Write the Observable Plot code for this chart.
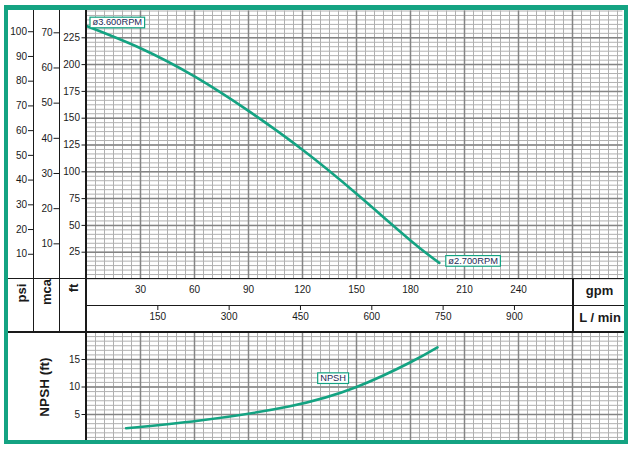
<!DOCTYPE html>
<html><head><meta charset="utf-8">
<script src="https://cdn.jsdelivr.net/npm/d3@7"></script>
<script src="https://cdn.jsdelivr.net/npm/@observablehq/plot@0.6"></script>
<style>
html,body{margin:0;padding:0;background:#fff;}
#c{position:relative;width:637px;height:453px;overflow:hidden;font-family:"Liberation Sans",Arial,sans-serif;background:#fff;}
#c svg{position:absolute;overflow:visible;}
.ln{position:absolute;background:#1a1a1a;}
.lbl{position:absolute;font-weight:bold;color:#1a1a1a;white-space:nowrap;line-height:1;}
.rot{transform:translate(-50%,-50%) rotate(-90deg);}
.ctr{transform:translate(-50%,-50%);}
#frame{position:absolute;left:4px;top:5px;width:624px;height:439px;box-sizing:border-box;border:4px solid #14a382;border-top-width:5px;z-index:10;pointer-events:none;}
</style></head>
<body><div id="c"></div>
<script>
// ---- data ----
const gpmTicks = [30, 60, 90, 120, 150, 180, 210, 240];
const lminTicks = [150, 300, 450, 600, 750, 900];
const ftTicks = [25, 50, 75, 100, 125, 150, 175, 200, 225];
const psiTicks = [10, 20, 30, 40, 50, 60, 70, 80, 90, 100];
const mcaTicks = [10, 20, 30, 40, 50, 60, 70];
const npshTicks = [5, 10, 15];
const headGpm = [0, 30, 60, 90, 120, 150, 180, 196];
const headFt = [236, 215.3, 189, 156.8, 120.5, 79.5, 36, 15];
const npshGpm = [22, 63, 113, 150, 180, 195];
const npshFt = [2.5, 3.9, 6.5, 10.0, 14.5, 17.2];
const rpmLabels = ["ø3.600RPM", "ø2.700RPM"];
const npshLabel = "NPSH";

// ---- layout constants ----
const GREEN = "#14a382";
const W = 637;
const gpmMax = 298;
const ftMax = 250;
const npshMax = 20;
const PSI_FT = 2.30666, M_FT = 3.28084, L_GAL = 3.78541;
const mL = 86, mR = W - 622.4;
const font = {fontFamily: '"Liberation Sans", Arial, sans-serif', fontSize: "10px", color: "#1a1a1a", background: "transparent"};

const head = headGpm.map((g, i) => ({gpm: g, ft: headFt[i]}));
const npsh = npshGpm.map((g, i) => ({gpm: g, ft: npshFt[i]}));
const minorX = d3.range(0, gpmMax + 0.01, 5);
const majorX = d3.range(30, gpmMax, 30);
const c = document.getElementById("c");

function place(svg, left, top) { svg.style.left = left + "px"; svg.style.top = top + "px"; c.appendChild(svg); return svg; }
function box(svg, names) {
  d3.select(svg).selectAll("text").filter(function () { return names.includes(this.textContent); }).each(function () {
    const b = this.getBBox();
    const r = document.createElementNS("http://www.w3.org/2000/svg", "rect");
    r.setAttribute("x", b.x - 2.5); r.setAttribute("y", b.y - 0.3);
    r.setAttribute("width", b.width + 5); r.setAttribute("height", b.height + 0.6);
    r.setAttribute("fill", "#fff"); r.setAttribute("stroke", GREEN); r.setAttribute("stroke-width", 1.2);
    const t = this.getAttribute("transform"); if (t) r.setAttribute("transform", t);
    this.parentNode.insertBefore(r, this);
  });
}
const minorStyle = {stroke: "#b0b0b0", strokeWidth: 1, strokeOpacity: 1};
const majorStyle = {stroke: "#858585", strokeWidth: 1.5, strokeOpacity: 1};

// ---- head chart ----
const top1 = Plot.plot({
  width: W, height: 280, marginLeft: mL, marginRight: mR, marginTop: 10.5, marginBottom: 1.5,
  style: font,
  x: {domain: [0, gpmMax], axis: null},
  y: {domain: [0, ftMax]},
  marks: [
    Plot.ruleX(minorX, minorStyle),
    Plot.ruleY(d3.range(0, ftMax + 0.01, ftMax / 60), minorStyle),
    Plot.ruleX(majorX, majorStyle),
    Plot.ruleY(d3.range(25, ftMax, 25), majorStyle),
    Plot.axisY(ftTicks, {anchor: "left", tickSize: 4.5, tickPadding: 2, label: null, stroke: "#1a1a1a"}),
    Plot.line(head, {x: "gpm", y: "ft", stroke: GREEN, strokeWidth: 2.6, curve: "natural"}),
    Plot.text([{...head[0], t: rpmLabels[0]}], {x: "gpm", y: "ft", text: "t", textAnchor: "start", dx: 6, dy: -3.5, fontSize: 9.3, fill: "#1c2a55"}),
    Plot.text([{...head[head.length - 1], t: rpmLabels[1]}], {x: "gpm", y: "ft", text: "t", textAnchor: "start", dx: 9, dy: -2, fontSize: 9.3, fill: "#1c2a55"})
  ]
});
place(top1, 0, 0);
box(top1, rpmLabels);

// psi axis
place(Plot.plot({
  width: 34, height: 280, marginLeft: 33, marginRight: 1, marginTop: 10.5, marginBottom: 1.5, style: font,
  y: {domain: [0, ftMax / PSI_FT]},
  marks: [Plot.axisY(psiTicks, {anchor: "left", tickSize: 5, tickPadding: 1.5, label: null, stroke: "#1a1a1a"})]
}), 0, 0);
// mca axis
place(Plot.plot({
  width: 60, height: 280, marginLeft: 59, marginRight: 1, marginTop: 10.5, marginBottom: 1.5, style: font,
  y: {domain: [0, ftMax / M_FT]},
  marks: [Plot.axisY(mcaTicks, {anchor: "left", tickSize: 5.5, tickPadding: 1.5, label: null, stroke: "#1a1a1a"})]
}), 0, 0);

// gpm axis band
place(Plot.plot({
  width: W, height: 40, marginLeft: mL, marginRight: mR, marginTop: 0, marginBottom: 32, style: font,
  x: {domain: [0, gpmMax]},
  marks: [Plot.axisX(gpmTicks, {anchor: "bottom", tickSize: 0, tickPadding: 7, label: null})]
}), 0, 270);
// L/min axis band
place(Plot.plot({
  width: W, height: 35, marginLeft: mL, marginRight: mR, marginTop: 0, marginBottom: 20, style: font,
  x: {domain: [0, gpmMax * L_GAL]},
  marks: [Plot.axisX(lminTicks, {anchor: "bottom", tickSize: 5, tickPadding: 2, label: null, stroke: "#1a1a1a"})]
}), 0, 290);

// ---- NPSH chart ----
const bot = Plot.plot({
  width: W, height: 122, marginLeft: mL, marginRight: mR, marginTop: 11.5, marginBottom: 0.5, style: font,
  x: {domain: [0, gpmMax], axis: null},
  y: {domain: [0, npshMax]},
  marks: [
    Plot.ruleX(minorX, minorStyle),
    Plot.ruleY(d3.range(0, npshMax + 0.01, 5 / 6), minorStyle),
    Plot.ruleX(majorX, majorStyle),
    Plot.ruleY(npshTicks, majorStyle),
    Plot.axisY(npshTicks, {anchor: "left", tickSize: 4.5, tickPadding: 2, label: null, stroke: "#1a1a1a"}),
    Plot.line(npsh, {x: "gpm", y: "ft", stroke: GREEN, strokeWidth: 2.6, curve: "natural"}),
    Plot.text([{gpm: 137, ft: 11.6, t: npshLabel}], {x: "gpm", y: "ft", text: "t", fontSize: 9.3, fill: "#1c2a55"})
  ]
});
place(bot, 0, 320);
box(bot, [npshLabel]);

// ---- structural lines & labels ----
const lines = [
  [32.5, 10, 1.5, 322], [58.5, 10, 1.5, 322], [85.3, 10, 1.5, 430],
  [8, 277.5, 616, 1.6], [86, 304.5, 538, 1.5], [8, 331, 616, 2.3], [572.3, 278, 1.5, 54]
];
lines.forEach(([l, t, w, h]) => {
  const d = document.createElement("div"); d.className = "ln";
  Object.assign(d.style, {left: l + "px", top: t + "px", width: w + "px", height: h + "px"});
  c.appendChild(d);
});
const texts = [
  ["psi", 20.5, 293, 13, "rot"], ["mca", 46, 292, 13, "rot"], ["ft", 73, 288, 13, "rot"],
  ["gpm", 599.5, 290, 13, "ctr"], ["L / min", 600, 316.5, 13, "ctr"],
  ["NPSH (ft)", 44.5, 387, 13.5, "rot"]
];
texts.forEach(([s, x, y, fs, cls]) => {
  const d = document.createElement("div"); d.className = "lbl " + cls; d.textContent = s;
  Object.assign(d.style, {left: x + "px", top: y + "px", fontSize: fs + "px"});
  c.appendChild(d);
});
const f = document.createElement("div"); f.id = "frame"; c.appendChild(f);
</script>
</body></html>
